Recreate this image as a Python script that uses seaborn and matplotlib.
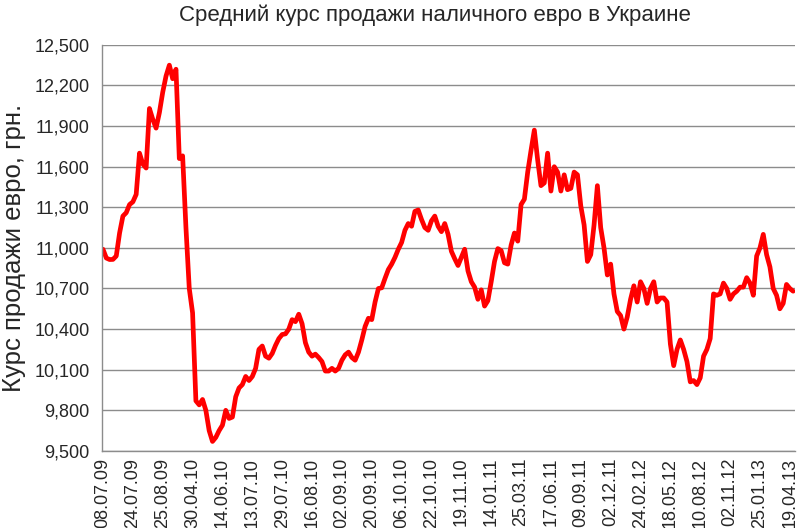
import numpy as np
import pandas as pd
import matplotlib
matplotlib.use("Agg")
import matplotlib.pyplot as plt
import seaborn as sns

# ---------------------------------------------
# Data: average cash EUR selling rate, UAH
# ---------------------------------------------
rate = [
    10.990, 10.925, 10.914, 10.915, 10.940, 11.110, 11.235, 11.260, 11.320, 11.340,
    11.395, 11.700, 11.620, 11.590, 12.030, 11.950, 11.885, 12.000, 12.150, 12.270,
    12.350, 12.250, 12.320, 11.660, 11.680, 11.150, 10.700, 10.520, 9.870, 9.840,
    9.880, 9.800, 9.650, 9.570, 9.600, 9.650, 9.690, 9.800, 9.740, 9.750,
    9.900, 9.965, 9.990, 10.050, 10.020, 10.050, 10.110, 10.250, 10.275, 10.200,
    10.185, 10.220, 10.280, 10.330, 10.360, 10.365, 10.400, 10.470, 10.455, 10.510,
    10.440, 10.300, 10.230, 10.200, 10.215, 10.190, 10.160, 10.090, 10.090, 10.110,
    10.090, 10.110, 10.170, 10.210, 10.230, 10.190, 10.170, 10.230, 10.320, 10.420,
    10.480, 10.470, 10.600, 10.700, 10.705, 10.775, 10.840, 10.880, 10.930, 10.990,
    11.040, 11.130, 11.180, 11.160, 11.270, 11.280, 11.210, 11.150, 11.130, 11.200,
    11.235, 11.160, 11.120, 11.180, 11.100, 10.975, 10.920, 10.870, 10.930, 10.990,
    10.830, 10.750, 10.710, 10.620, 10.690, 10.570, 10.610, 10.750, 10.900, 10.995,
    10.980, 10.890, 10.880, 11.020, 11.110, 11.050, 11.320, 11.360, 11.560, 11.720,
    11.870, 11.650, 11.460, 11.480, 11.700, 11.420, 11.600, 11.560, 11.420, 11.540,
    11.430, 11.440, 11.560, 11.540, 11.310, 11.170, 10.900, 10.950, 11.170, 11.460,
    11.150, 11.000, 10.800, 10.880, 10.660, 10.530, 10.500, 10.400, 10.490, 10.620,
    10.720, 10.600, 10.750, 10.700, 10.590, 10.700, 10.750, 10.600, 10.630, 10.630,
    10.600, 10.290, 10.130, 10.250, 10.320, 10.250, 10.160, 10.010, 10.020, 9.990,
    10.040, 10.200, 10.250, 10.330, 10.660, 10.650, 10.660, 10.740, 10.700, 10.620,
    10.660, 10.680, 10.710, 10.710, 10.780, 10.740, 10.650, 10.940, 11.000, 11.100,
    10.950, 10.860, 10.700, 10.650, 10.550, 10.590, 10.730, 10.700, 10.680,
]

tick_labels = [
    "08.07.09", "24.07.09", "25.08.09", "30.04.10", "14.06.10", "13.07.10",
    "29.07.10", "16.08.10", "02.09.10", "20.09.10", "06.10.10", "22.10.10",
    "19.11.10", "14.01.11", "25.03.11", "17.06.11", "09.09.11", "02.12.11",
    "24.02.12", "18.05.12", "10.08.12", "02.11.12", "25.01.13", "19.04.13",
]
label_step = 9

title = "Средний курс продажи наличного евро в Украине"
ylabel = "Курс продажи евро, грн."

df = pd.DataFrame({"idx": np.arange(len(rate)), "rate": rate})

# ---------------------------------------------
# Plot
# ---------------------------------------------
sns.set_style("white")
plt.rcParams["font.family"] = ["Liberation Sans", "DejaVu Sans"]

fig = plt.figure(figsize=(8, 5.28), dpi=100)
ax = fig.add_axes([0.1275, 0.146, 0.866, 0.769])

sns.lineplot(data=df, x="idx", y="rate", ax=ax, color="#ff0000",
             linewidth=3.4, solid_joinstyle="round")

ax.set_ylim(9.5, 12.5)
yt = np.arange(9.5, 12.5001, 0.3)
ax.set_yticks(yt)
ax.set_yticklabels([f"{v:.3f}".replace(".", ",") for v in yt], fontsize=13)
ax.yaxis.grid(True, color="#8c8c8c", linewidth=1)
ax.set_axisbelow(True)

ax.set_xlim(-0.3, len(rate) - 0.5)
ax.set_xticks(np.arange(0, len(tick_labels) * label_step, label_step))
ax.set_xticklabels(tick_labels, rotation=90, fontsize=13)
ax.set_xticks(np.arange(len(rate)), minor=True)
ax.tick_params(axis="x", which="both", length=3, width=0.8, color="#8c8c8c",
               direction="out", pad=2)
ax.tick_params(axis="y", length=0, pad=9)

for s in ["top", "right"]:
    ax.spines[s].set_visible(False)
for s in ["left", "bottom"]:
    ax.spines[s].set_color("#8c8c8c")
    ax.spines[s].set_linewidth(1)

ax.set_xlabel("")
ax.set_ylabel(ylabel, fontsize=18.5)
ax.yaxis.set_label_coords(-0.11, 0.5)
fig.text(0.544, 0.972, title, ha="center", va="center", fontsize=16)

fig.savefig("out.png", dpi=100)
